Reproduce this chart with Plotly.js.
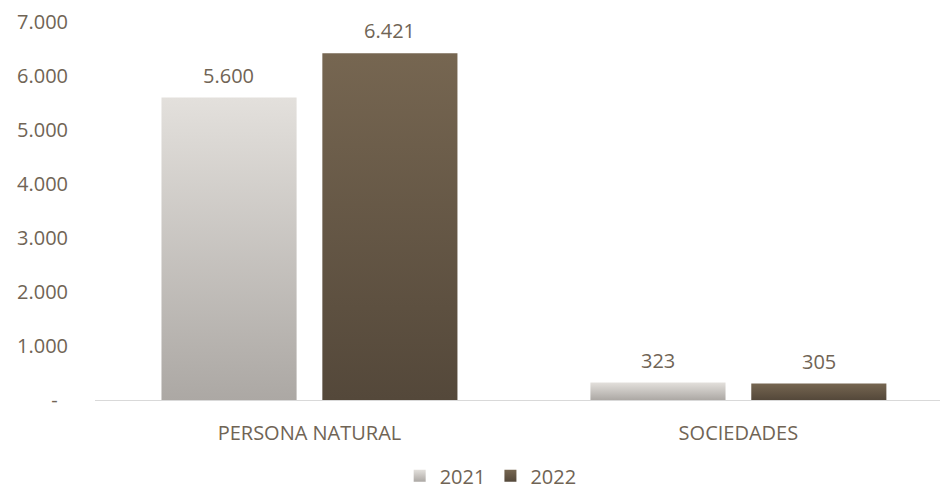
<!DOCTYPE html>
<html>
<head>
<meta charset="utf-8">
<script src="https://cdn.plot.ly/plotly-3.0.1.min.js"></script>
<style>html,body{margin:0;padding:0;background:#fff;}#chart{width:940px;height:491px;}</style>
</head>
<body>
<div id="chart"></div>
<script>
const categories = ["PERSONA NATURAL", "SOCIEDADES"];
const seriesNames = ["2021", "2022"];
const values2021 = [5600, 323];
const values2022 = [6421, 305];
const yTickVals = [0, 1000, 2000, 3000, 4000, 5000, 6000, 7000];
const yTickLabels = ["-\u00a0\u00a0", "1.000", "2.000", "3.000", "4.000", "5.000", "6.000", "7.000"];

const textColor = "#706455";
const fontFamily = "'Open Sans', 'Noto Sans', sans-serif";

function fmt(v) {
  return v.toString().replace(/\B(?=(\d{3})+(?!\d))/g, ".");
}

const traces = [
  {type: "bar", name: seriesNames[0], x: categories, y: values2021,
   marker: {color: "#c8c4c0"}, hoverinfo: "none"},
  {type: "bar", name: seriesNames[1], x: categories, y: values2022,
   marker: {color: "#655745"}, hoverinfo: "none"}
];

const annotations = [];
[values2021, values2022].forEach((vals, si) => {
  vals.forEach((v, ci) => {
    annotations.push({
      x: categories[ci], y: v, xref: "x", yref: "y",
      text: fmt(v), showarrow: false, yanchor: "bottom",
      xshift: (si === 0 ? -1 : 1) * 80.5, yshift: 7,
      font: {family: fontFamily, size: 20, color: textColor}
    });
  });
});

const layout = {
  width: 940, height: 491,
  margin: {l: 95, r: 0, t: 22, b: 91},
  paper_bgcolor: "#ffffff", plot_bgcolor: "#ffffff",
  font: {family: fontFamily, size: 20, color: textColor},
  separators: ",.",
  barmode: "group", bargap: 0.25, bargroupgap: 0.16,
  showlegend: true,
  legend: {orientation: "h", xref: "container", yref: "container",
           x: 0.522, xanchor: "center", y: 0.031, yanchor: "middle",
           font: {family: fontFamily, size: 20, color: textColor},
           itemwidth: 30, tracegroupgap: 0},
  xaxis: {type: "category", range: [-0.5, 1.47], showgrid: false, zeroline: false,
          showline: true, linecolor: "#d9d9d9", linewidth: 1, ticks: "",
          ticklabelstandoff: 15, tickfont: {family: fontFamily, size: 20, color: textColor}},
  yaxis: {range: [0, 7000], tickvals: yTickVals, ticktext: yTickLabels,
          showgrid: false, zeroline: false, showline: false, ticks: "",
          ticklabelstandoff: 26, tickfont: {family: fontFamily, size: 20, color: textColor}},
  annotations: annotations
};

function addGradients(gd) {
  const svg = gd.querySelector(".main-svg");
  const ns = "http://www.w3.org/2000/svg";
  let defs = svg.querySelector("defs");
  if (!defs) { defs = document.createElementNS(ns, "defs"); svg.insertBefore(defs, svg.firstChild); }
  const grads = [["g2021", "#e3e0dc", "#aca8a4"], ["g2022", "#766651", "#54483a"]];
  grads.forEach(([id, c1, c2]) => {
    const lg = document.createElementNS(ns, "linearGradient");
    lg.setAttribute("id", id);
    lg.setAttribute("x1", "0"); lg.setAttribute("y1", "0");
    lg.setAttribute("x2", "0"); lg.setAttribute("y2", "1");
    [[0, c1], [1, c2]].forEach(([o, c]) => {
      const s = document.createElementNS(ns, "stop");
      s.setAttribute("offset", o); s.setAttribute("stop-color", c);
      lg.appendChild(s);
    });
    defs.appendChild(lg);
  });
  const barTraces = gd.querySelectorAll(".barlayer .trace");
  barTraces.forEach((t, i) => {
    t.querySelectorAll("path").forEach(p => { p.style.fill = "url(#" + grads[i][0] + ")"; });
  });
  const legTraces = gd.querySelectorAll(".legend .traces");
  legTraces.forEach((t, i) => {
    t.querySelectorAll(".legendpoints path").forEach(p => { p.style.fill = "url(#" + grads[i][0] + ")"; });
  });
}

Plotly.newPlot("chart", traces, layout, {displayModeBar: false, staticPlot: true}).then(addGradients);
</script>
</body>
</html>
